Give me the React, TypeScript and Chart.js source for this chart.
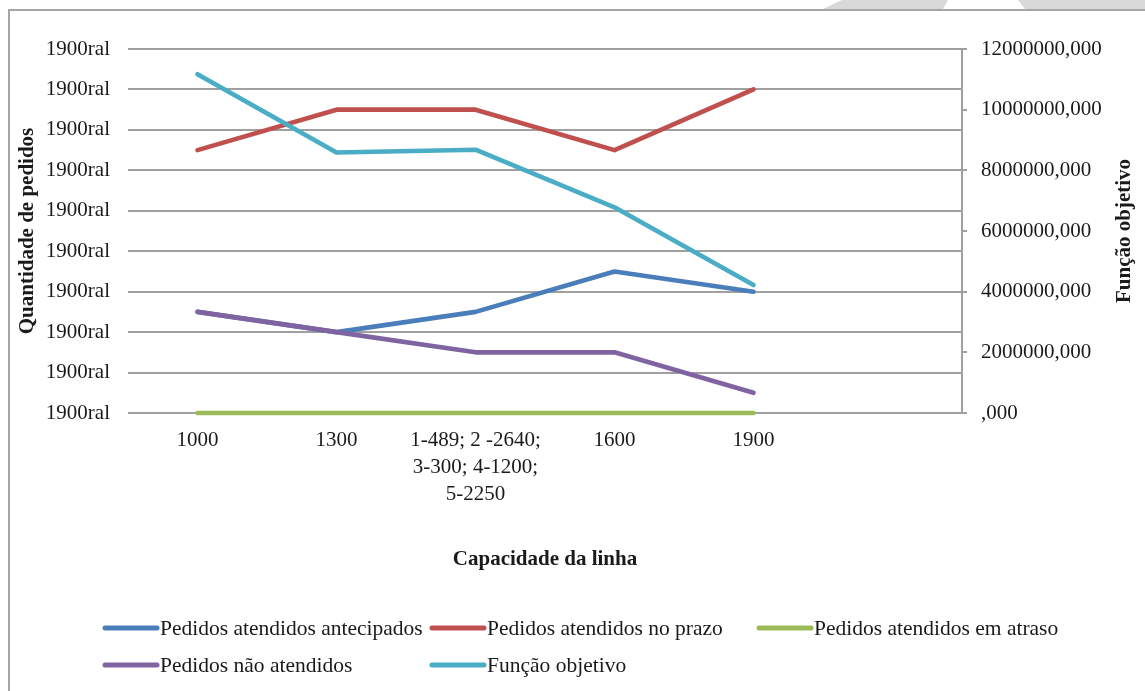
import React, { useEffect, useRef } from 'react';
import { Chart, registerables } from 'chart.js';

Chart.register(...registerables);

const categories: (string | string[])[] = ['1000', '1300', ['1-489; 2 -2640;', '3-300; 4-1200;', '5-2250'], '1600', '1900', ''];
const antecipados = [5, 4, 5, 7, 6, null];
const noPrazo = [13, 15, 15, 13, 16, null];
const emAtraso = [0, 0, 0, 0, 0, null];
const naoAtendidos = [5, 4, 3, 3, 1, null];
const funcaoObjetivo = [11170000, 8590000, 8680000, 6780000, 4220000, null];

const seriesNames = [
  'Pedidos atendidos antecipados',
  'Pedidos atendidos no prazo',
  'Pedidos atendidos em atraso',
  'Pedidos não atendidos',
  'Função objetivo',
];
const seriesColors = ['#4a7ebb', '#c0504d', '#9bbb59', '#8064a2', '#4bacc6'];
const leftTickLabel = '1900ral';
const leftTitle = 'Quantidade de pedidos';
const rightTitle = 'Função objetivo';
const xTitle = 'Capacidade da linha';

const FONT = "'Liberation Serif', 'Times New Roman', serif";
const GRID = '#a0a0a0';

const decorPlugin = {
  id: 'decor',
  beforeDraw(chart: any) {
    const ctx = chart.ctx;
    ctx.save();
    ctx.fillStyle = '#fff';
    ctx.fillRect(0, 0, chart.width, chart.height);
    // background shapes at top
    ctx.fillStyle = '#d9d9d9';
    ctx.beginPath();
    ctx.moveTo(823, 9);
    ctx.lineTo(842, 0);
    ctx.lineTo(948, 0);
    ctx.lineTo(943, 9);
    ctx.closePath();
    ctx.fill();
    ctx.beginPath();
    ctx.moveTo(1025, 9);
    ctx.lineTo(1018, 0);
    ctx.lineTo(1145, 0);
    ctx.lineTo(1145, 9);
    ctx.closePath();
    ctx.fill();
    // frame
    ctx.strokeStyle = '#a6a6a6';
    ctx.lineWidth = 2;
    ctx.beginPath();
    ctx.moveTo(9, 691);
    ctx.lineTo(9, 10);
    ctx.lineTo(1145, 10);
    ctx.stroke();
    ctx.restore();
  },
  afterDraw(chart: any) {
    const ctx = chart.ctx;
    const area = chart.chartArea;
    const midY = (area.top + area.bottom) / 2;
    ctx.save();
    ctx.fillStyle = '#1a1a1a';
    ctx.font = `bold 21px ${FONT}`;
    ctx.textAlign = 'center';
    ctx.textBaseline = 'middle';
    // left title
    ctx.save();
    ctx.translate(28, midY);
    ctx.rotate(-Math.PI / 2);
    ctx.fillText(leftTitle, 0, 0);
    ctx.restore();
    // right title
    ctx.save();
    ctx.translate(1125, midY);
    ctx.rotate(-Math.PI / 2);
    ctx.fillText(rightTitle, 0, 0);
    ctx.restore();
    // x title
    ctx.fillText(xTitle, 545, 560);
    // legend
    ctx.font = `21.5px ${FONT}`;
    ctx.textAlign = 'left';
    const colX = [103, 430, 757];
    const rowY = [628, 665];
    chart.data.datasets.forEach((ds: any, i: number) => {
      const x = colX[i % 3];
      const y = rowY[Math.floor(i / 3)];
      ctx.strokeStyle = ds.borderColor;
      ctx.lineWidth = 5;
      ctx.lineCap = 'round';
      ctx.beginPath();
      ctx.moveTo(x + 2, y);
      ctx.lineTo(x + 54, y);
      ctx.stroke();
      ctx.fillStyle = '#1a1a1a';
      ctx.fillText(ds.label, x + 57, y + 1);
    });
    ctx.restore();
  },
};

export default function App() {
  const canvasRef = useRef<HTMLCanvasElement | null>(null);

  useEffect(() => {
    if (!canvasRef.current) return;
    const data = [antecipados, noPrazo, emAtraso, naoAtendidos, funcaoObjetivo];
    const chart = new Chart(canvasRef.current, {
      type: 'line',
      data: {
        labels: categories as any,
        datasets: data.map((d, i) => ({
          label: seriesNames[i],
          data: d as any,
          borderColor: seriesColors[i],
          backgroundColor: seriesColors[i],
          borderWidth: 4.6,
          borderCapStyle: 'round',
          borderJoinStyle: 'round',
          pointRadius: 0,
          pointHoverRadius: 0,
          tension: 0,
          clip: false as any,
          order: 5 - i,
          yAxisID: i === 4 ? 'y1' : 'y',
        })),
      },
      options: {
        animation: false,
        responsive: false,
        maintainAspectRatio: false,
        events: [],
        layout: { padding: { top: 49, left: 0, right: 0, bottom: 0 } },
        plugins: {
          legend: { display: false },
          tooltip: { enabled: false },
        },
        scales: {
          x: {
            type: 'category',
            offset: true,
            grid: { display: false, drawTicks: false },
            border: { display: false },
            ticks: {
              autoSkip: false,
              maxRotation: 0,
              minRotation: 0,
              padding: 14,
              color: '#1a1a1a',
              font: { family: FONT, size: 21, lineHeight: 1.28 },
            },
            afterFit(scale: any) {
              scale.height = 691 - 413;
            },
          },
          y: {
            position: 'left',
            min: 0,
            max: 18,
            grid: { color: GRID, lineWidth: 2, drawTicks: false },
            border: { display: false },
            ticks: {
              stepSize: 2,
              padding: 18,
              color: '#1a1a1a',
              font: { family: FONT, size: 21 },
              callback: () => leftTickLabel,
            },
            afterFit(scale: any) {
              scale.width = 128;
            },
          },
          y1: {
            position: 'right',
            min: 0,
            max: 12000000,
            grid: { drawOnChartArea: false, color: GRID, lineWidth: 2, tickLength: 5 },
            border: { display: true, color: GRID, width: 2 },
            ticks: {
              stepSize: 2000000,
              padding: 14,
              color: '#1a1a1a',
              font: { family: FONT, size: 21 },
              callback: (v: any) => (v === 0 ? ',000' : `${v},000`),
            },
            afterFit(scale: any) {
              scale.width = 1145 - 962;
            },
          },
        },
      },
      plugins: [decorPlugin],
    });
    return () => chart.destroy();
  }, []);

  return (
    <div style={{ position: 'fixed', left: 0, top: 0, width: 1145, height: 691, background: '#fff' }}>
      <canvas ref={canvasRef} width={1145} height={691} style={{ display: 'block', width: 1145, height: 691 }} />
    </div>
  );
}
